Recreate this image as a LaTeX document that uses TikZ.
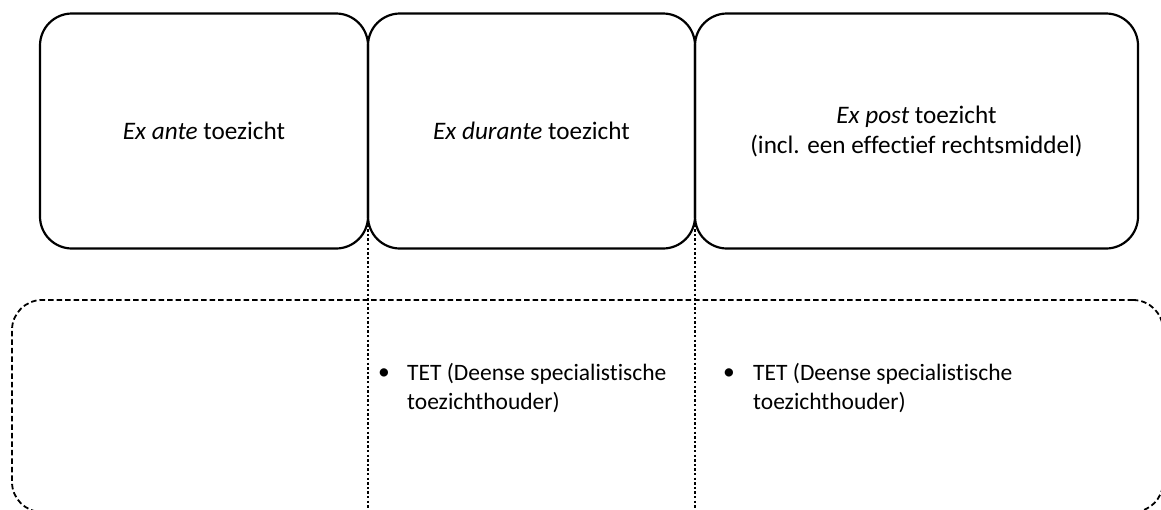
\documentclass[tikz,border=0pt]{standalone}
\usepackage{fontspec}
\setmainfont{Carlito}[Ligatures=NoCommon]

\begin{document}
\begin{tikzpicture}[x=1pt,y=-1pt]
\tikzstyle{every node}+=[inner sep=0pt]
\tikzstyle{fase}=[draw=black, line width=2.2pt, rounded corners=32pt, minimum height=235pt, align=center, font=\fontsize{25.2}{30}\selectfont]
\tikzstyle{kader}=[draw=black, line width=1.8pt, dash pattern=on 5.5pt off 3pt, rounded corners=30pt]
\tikzstyle{grens}=[black, line width=2.8pt, dash pattern=on 2.4pt off 2.2pt]
\tikzstyle{punt}=[font=\fontsize{23.5}{29}\selectfont]
\tikzstyle{lijst}=[anchor=west, align=left, font=\fontsize{23.5}{29}\selectfont]
\useasboundingbox (0,0) rectangle (1161,509);
\clip (0,0) rectangle (1161,509);
% onderste kader
\node [kader, minimum width=1151pt, minimum height=212pt] (kader) at (587.5,406) {};
% drie fasen
\node [fase, minimum width=328pt] (ante) at (204,131) {\textit{Ex ante} toezicht};
\node [fase, minimum width=327pt] (durante) at (531.5,131) {\textit{Ex durante} toezicht};
\node [fase, minimum width=443pt] (post) at (916.5,131) {\textit{Ex post} toezicht\\(incl. een effectief rechtsmiddel)};
% scheidslijnen
\coordinate (g1top) at (368,220);
\coordinate (g1bot) at (368,509);
\coordinate (g2top) at (695,220);
\coordinate (g2bot) at (695,509);
\draw [grens] (g1top) -- (g1bot);
\draw [grens] (g2top) -- (g2bot);
% opsommingen
\node [punt] (p1) at (384,374) {•};
\node [lijst] (l1) at (407,388.5) {TET (Deense specialistische\\toezichthouder)};
\node [punt] (p2) at (729,374) {•};
\node [lijst] (l2) at (753,388.5) {TET (Deense specialistische\\toezichthouder)};
\end{tikzpicture}
\end{document}
